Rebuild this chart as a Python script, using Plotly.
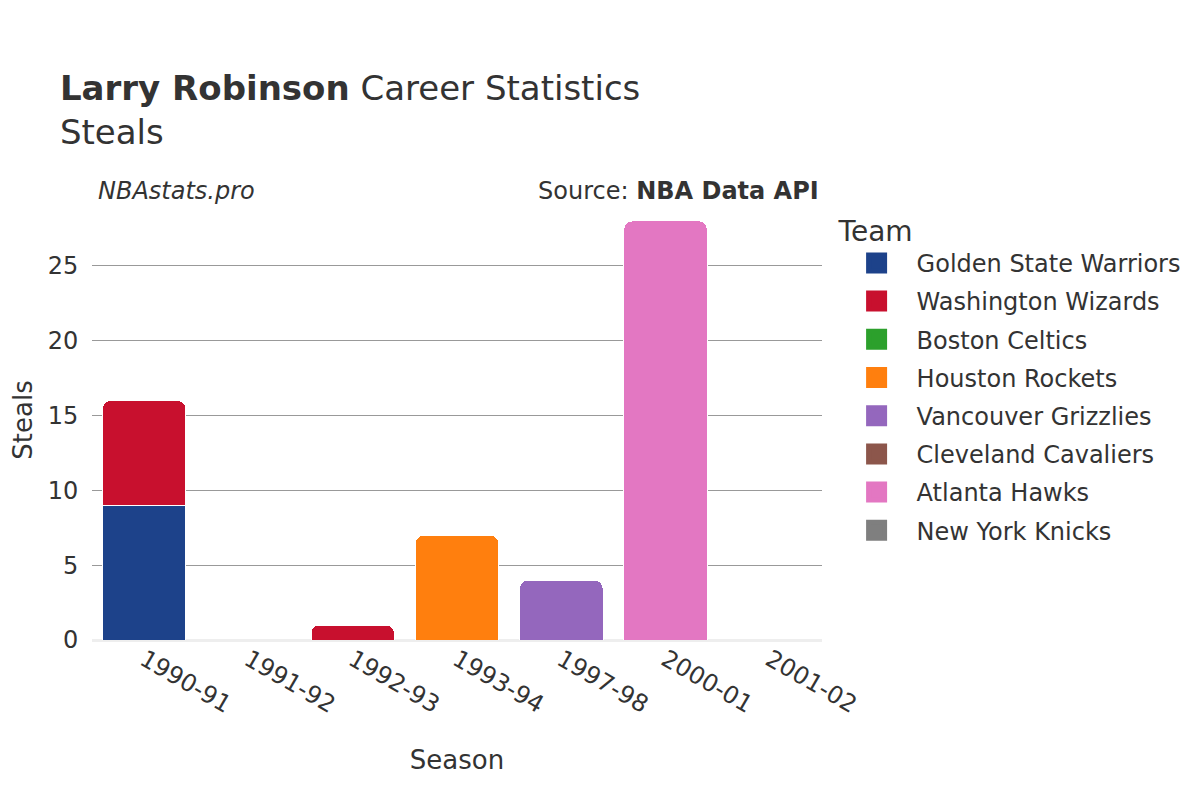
import plotly.graph_objects as go

# data
seasons = ['1990-91', '1991-92', '1992-93', '1993-94', '1997-98', '2000-01', '2001-02']
teams = ['Golden State Warriors', 'Washington Wizards', 'Boston Celtics', 'Houston Rockets',
         'Vancouver Grizzlies', 'Cleveland Cavaliers', 'Atlanta Hawks', 'New York Knicks']
colors = ['#1d428a', '#c8102e', '#2ca02c', '#ff7f0e', '#9467bd', '#8c564b', '#e377c2', '#7f7f7f']

gsw_steals = [9, None, None, None, None, None, None]
was_steals = [7, None, 1, None, None, None, None]
bos_steals = [None, 0, None, None, None, None, None]
hou_steals = [None, None, None, 7, None, None, None]
van_steals = [None, None, None, None, 4, None, None]
cle_steals = [None, None, None, None, None, 0, None]
atl_steals = [None, None, None, None, None, 28, None]
nyk_steals = [None, None, None, None, None, None, 0]

steals = [gsw_steals, was_steals, bos_steals, hou_steals, van_steals, cle_steals, atl_steals, nyk_steals]

fig = go.Figure()
for team, col, vals in zip(teams, colors, steals):
    fig.add_trace(go.Bar(name=team, x=seasons, y=vals, marker_color=col,
                         marker_line=dict(color='white', width=1), showlegend=False))
# legend entries with bigger square swatches
for team, col in zip(teams, colors):
    fig.add_trace(go.Scatter(name=team, x=[None], y=[None], mode='markers', legendgroup=team,
                             marker=dict(symbol='square', size=16, color=col,
                                         line=dict(color=col, width=6))))

fig.update_layout(
    width=1200, height=800,
    barmode='stack',
    barcornerradius=8,
    bargap=0.2,
    plot_bgcolor='white', paper_bgcolor='white',
    font=dict(family='DejaVu Sans', color='#333333', size=24),
    title=dict(text='<b>Larry Robinson</b> Career Statistics<br>Steals',
               x=0.0433, xanchor='left', y=0.885, yanchor='top',
               font=dict(size=34, color='#333333')),
    margin=dict(l=84, r=386, t=192, b=168),
    xaxis=dict(type='category', categoryorder='array', categoryarray=seasons,
               title=dict(text='Season', font=dict(size=26), standoff=33), tickangle=30,
               tickfont=dict(size=24), automargin=False),
    yaxis=dict(title=dict(text='Steals', font=dict(size=26), standoff=20), range=[0, 29.4],
               gridcolor='#999999', gridwidth=1, tickfont=dict(size=24),
               zeroline=True, zerolinecolor='#eeeeee', zerolinewidth=3,
               ticks='outside', ticklen=8, tickcolor='white', automargin=False),
    legend=dict(title=dict(text='Team', font=dict(size=28)), font=dict(size=24),
                x=1.02, xanchor='left', y=0.99, yanchor='top',
                traceorder='grouped', tracegroupgap=4, itemwidth=70),
    annotations=[
        dict(text='<i>NBAstats.pro</i>', xref='paper', yref='paper', x=0.0, y=1.0,
             xanchor='left', yanchor='bottom', showarrow=False, xshift=4, yshift=-7,
             font=dict(size=24, color='#333333')),
        dict(text='Source: <b>NBA Data API</b>', xref='paper', yref='paper', x=1.0, y=1.0,
             xanchor='right', yanchor='bottom', showarrow=False, xshift=-1, yshift=-7,
             font=dict(size=24, color='#333333')),
    ],
)

fig.write_html('out.html')
